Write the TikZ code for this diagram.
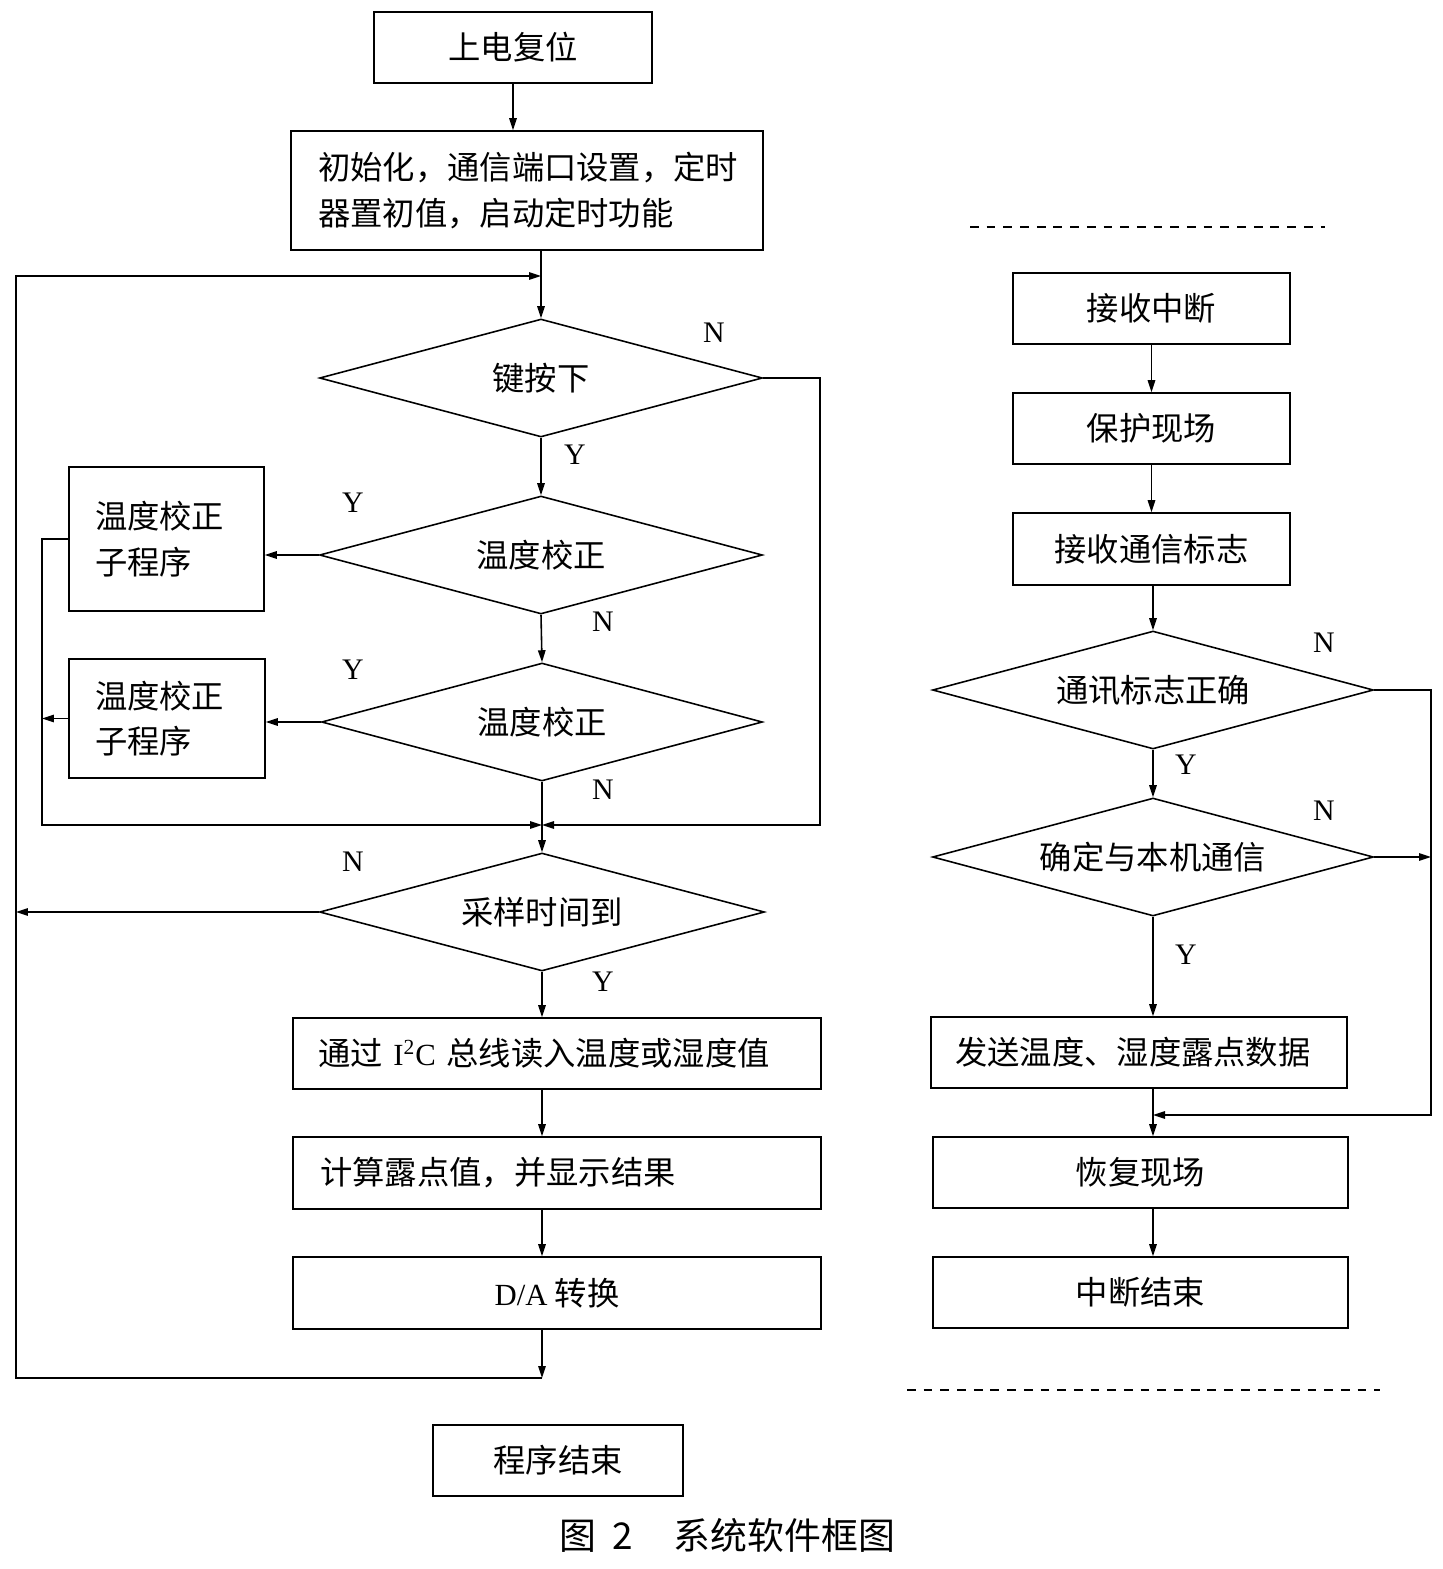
\documentclass[tikz,border=0pt]{standalone}
\usepackage{fontspec}
\setmainfont{Liberation Serif}
\newfontfamily\cjk{Noto Sans CJK SC}
\usetikzlibrary{shapes.geometric,arrows.meta}
\tikzset{
  box/.style={draw, line width=0.9pt, inner sep=0pt, font=\cjk\fontsize{18.4}{26}\selectfont},
  choice/.style={diamond, draw, line width=0.9pt, aspect=3.75, inner sep=0pt, minimum width=8.86cm, minimum height=2.36cm, font=\cjk\fontsize{18.4}{26}\selectfont},
  yn/.style={font=\fontsize{17}{19}\selectfont, inner sep=0pt},
  arr/.style={line width=0.9pt, -{Triangle[length=2.4mm,width=1.5mm]}},
  wire/.style={line width=0.9pt},
  divider/.style={line width=0.9pt, dash pattern=on 5pt off 4.5pt}
}
\begin{document}
\begin{tikzpicture}[x=0.02cm, y=-0.02cm]
\useasboundingbox (0,0) rectangle (1443,1569);
\node (start) at (513,47.5) [box, minimum width=5.56cm, minimum height=1.42cm] {上电复位};
\node (init) at (527,190.5) [box, align=left, text width=8.36cm, inner xsep=0.54cm, minimum height=2.38cm] {初始化，通信端口设置，定时\\器置初值，启动定时功能};
\node (key) at (541,378) [choice] {键按下};
\node (calA) at (541,555) [choice] {温度校正};
\node (calB) at (542,722) [choice, minimum width=8.82cm] {温度校正};
\node (sample) at (542,912) [choice, minimum width=8.9cm] {采样时间到};
\node (subA) at (166.5,539) [box, align=left, text width=2.86cm, inner xsep=0.52cm, minimum height=2.88cm] {温度校正\\子程序};
\node (subB) at (167,718.5) [box, align=left, text width=2.88cm, inner xsep=0.52cm, minimum height=2.38cm] {温度校正\\子程序};
\node (readbus) at (557,1053.5) [box, align=left, text width=9.56cm, inner xsep=0.5cm, minimum height=1.42cm] {通过 {\rmfamily\fontsize{17.5}{19}\selectfont I\textsuperscript{2}C} 总线读入温度或湿度值};
\node (dew) at (557,1173) [box, align=left, text width=9.48cm, inner xsep=0.54cm, minimum height=1.44cm] {计算露点值，并显示结果};
\node (dac) at (557,1293) [box, minimum width=10.56cm, minimum height=1.44cm] {{\rmfamily\fontsize{17.5}{19}\selectfont D/A} 转换};
\node (finish) at (558,1460.5) [box, minimum width=5cm, minimum height=1.42cm] {程序结束};
\node (rxint) at (1151.5,308.5) [box, minimum width=5.54cm, minimum height=1.42cm] {接收中断};
\node (protect) at (1151.5,428.5) [box, minimum width=5.54cm, minimum height=1.42cm] {保护现场};
\node (rxflag) at (1151.5,549) [box, minimum width=5.54cm, minimum height=1.44cm] {接收通信标志};
\node (flagok) at (1153,690) [choice, minimum width=8.82cm] {通讯标志正确};
\node (thismach) at (1153,857) [choice, minimum width=8.82cm] {确定与本机通信};
\node (send) at (1139,1052.5) [box, align=left, text width=7.36cm, inner xsep=0.48cm, minimum height=1.42cm] {发送温度、湿度露点数据};
\node (restore) at (1140.5,1172.5) [box, minimum width=8.3cm, minimum height=1.42cm] {恢复现场};
\node (intend) at (1140.5,1292.5) [box, minimum width=8.3cm, minimum height=1.42cm] {中断结束};
\node (nkey) at (714,333) [yn] {N};
\node (ykey) at (575,455) [yn] {Y};
\node (ycalA) at (353,503) [yn] {Y};
\node (ncalA) at (603,622) [yn] {N};
\node (ycalB) at (353,670) [yn] {Y};
\node (ncalB) at (603,790) [yn] {N};
\node (nsample) at (353,862) [yn] {N};
\node (ysample) at (603,982) [yn] {Y};
\node (nflag) at (1324,643) [yn] {N};
\node (yflag) at (1186,765) [yn] {Y};
\node (nmach) at (1324,811) [yn] {N};
\node (ymach) at (1186,955) [yn] {Y};
\node (caption) at (727,1535) [font=\cjk\fontsize{21}{24}\selectfont] {图\hspace{0.45em}2\hspace{1.1em}系统软件框图};
\coordinate (lpt) at (16,276);
\coordinate (lpb) at (16,1378);
\coordinate (lpc) at (542,1378);
\coordinate (keyturn) at (820,825);
\coordinate (subline) at (42,825);
\coordinate (merge) at (542,825);
\coordinate (rb) at (1431,1115);
\coordinate (rejoin) at (1153,1115);
\draw[arr] (start.south) -- (start.south |- init.north);
\draw[arr] (init.south -| key.north) -- (key.north);
\draw[arr] (key.south) -- (calA.north);
\draw[arr] (calA.south) -- (calB.north);
\draw[arr] (calB.south) -- (sample.north);
\draw[arr] (calA.west) -- (calA.west -| subA.east);
\draw[arr] (calB.west) -- (calB.west -| subB.east);
\draw[arr] (subA.west) -| (subline) -- (merge);
\draw[arr] (subB.west) -- (subB.west -| subline);
\draw[arr] (key.east) -| (keyturn) -- (merge);
\draw[arr] (sample.west) -- (sample.west -| lpb);
\draw[arr] (sample.south) -- (sample.south |- readbus.north);
\draw[arr] (readbus.south -| sample.south) -- (dew.north -| sample.south);
\draw[arr] (dew.south -| sample.south) -- (dac.north -| sample.south);
\draw[arr] (dac.south -| sample.south) -- (lpc);
\draw[arr] (lpc) -- (lpb) -- (lpt) -- (key.north |- lpt);
\draw[arr] (rxint.south) -- (protect.north);
\draw[arr] (protect.south) -- (rxflag.north);
\draw[arr] (rxflag.south -| flagok.north) -- (flagok.north);
\draw[arr] (flagok.south) -- (thismach.north);
\draw[arr] (thismach.south) -- (thismach.south |- send.north);
\draw[arr] (flagok.east) -- (flagok.east -| rb) -- (rb) -- (rejoin);
\draw[arr] (thismach.east) -- (thismach.east -| rb);
\draw[arr] (send.south -| thismach.south) -- (restore.north -| thismach.south);
\draw[arr] (restore.south -| thismach.south) -- (intend.north -| thismach.south);
\draw[divider] (970,227) -- (1325,227);
\draw[divider] (907,1390) -- (1380,1390);
\end{tikzpicture}
\end{document}
